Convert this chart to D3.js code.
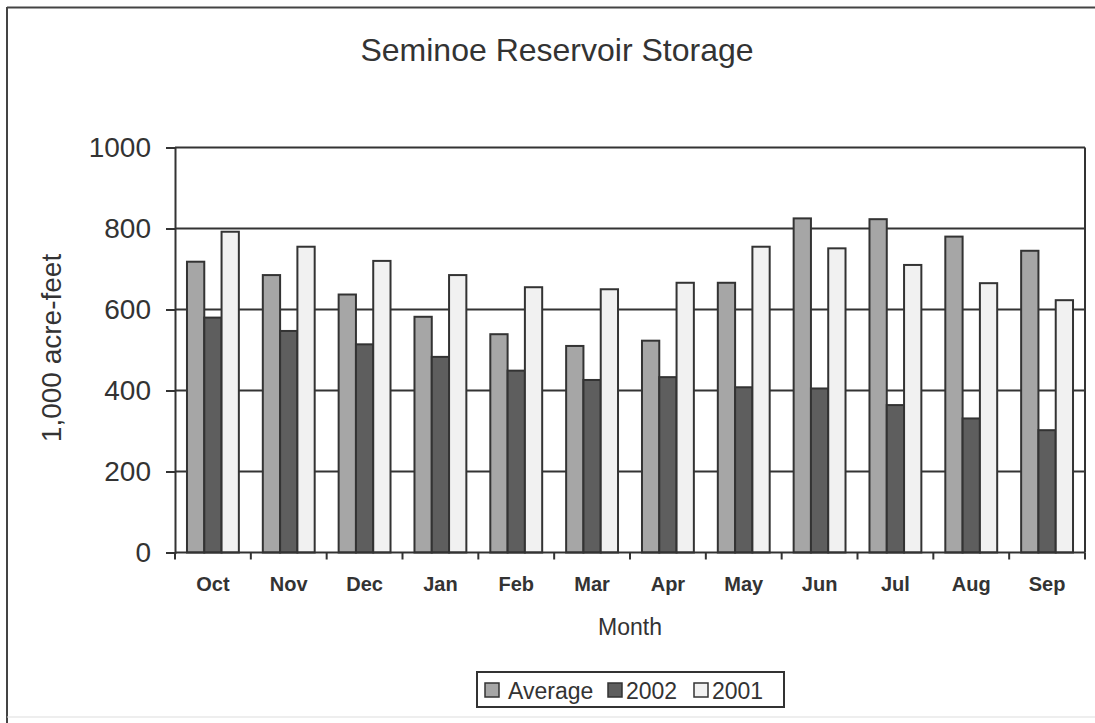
<!DOCTYPE html>
<html>
<head>
<meta charset="utf-8">
<script src="https://cdn.jsdelivr.net/npm/d3@7"></script>
<style>
  html, body { margin: 0; padding: 0; background: #fff; }
  svg { display: block; font-family: "Liberation Sans", Arial, sans-serif; }
</style>
</head>
<body>
<svg id="chart" width="1095" height="723"></svg>
<script>
// Seminoe Reservoir monthly storage, in 1,000 acre-feet
const months = ["Oct", "Nov", "Dec", "Jan", "Feb", "Mar", "Apr", "May", "Jun", "Jul", "Aug", "Sep"];
const seriesNames = ["Average", "2002", "2001"];
const averageValues = [718, 685, 637, 582, 539, 510, 523, 666, 825, 823, 780, 745];
const values2002 = [580, 547, 514, 483, 449, 426, 433, 408, 405, 364, 331, 302];
const values2001 = [792, 755, 720, 685, 655, 650, 666, 755, 751, 710, 665, 623];
const yTicks = [0, 200, 400, 600, 800, 1000];

const seriesValues = [averageValues, values2002, values2001];
const seriesFill = ["#a6a6a6", "#5e5e5e", "#f1f1f1"];
const ink = "#333";

const svg = d3.select("#chart");

// outer chart frame (left/top/bottom edges visible)
svg.append("line").attr("x1", 7).attr("y1", 7.5).attr("x2", 1095).attr("y2", 7.5)
  .attr("stroke", "#444").attr("stroke-width", 2);
svg.append("line").attr("x1", 7).attr("y1", 7).attr("x2", 7).attr("y2", 723)
  .attr("stroke", "#444").attr("stroke-width", 2);
svg.append("line").attr("x1", 7).attr("y1", 717).attr("x2", 1095).attr("y2", 717)
  .attr("stroke", "#ddd").attr("stroke-width", 1);

const plot = { left: 175, right: 1085, top: 147.5, bottom: 552.5 };

const x0 = d3.scaleBand()
  .domain(months)
  .range([plot.left, plot.right])
  .paddingInner(0.316)
  .paddingOuter(0.158);

const x1 = d3.scaleBand()
  .domain(seriesNames)
  .range([0, x0.bandwidth()])
  .padding(0);

const y = d3.scaleLinear()
  .domain([0, 1000])
  .range([plot.bottom, plot.top]);

// gridlines
svg.append("g")
  .selectAll("line")
  .data(yTicks.filter(d => d > 0))
  .join("line")
  .attr("x1", plot.left).attr("x2", plot.right)
  .attr("y1", d => y(d)).attr("y2", d => y(d))
  .attr("stroke", ink).attr("stroke-width", 2);

// plot area right border
svg.append("line")
  .attr("x1", plot.right).attr("x2", plot.right)
  .attr("y1", plot.top).attr("y2", plot.bottom)
  .attr("stroke", ink).attr("stroke-width", 2);

// bars
const rows = months.map((m, i) => ({
  month: m,
  items: seriesNames.map((s, k) => ({ series: s, k, value: seriesValues[k][i] }))
}));

svg.append("g")
  .selectAll("g")
  .data(rows)
  .join("g")
  .attr("transform", d => `translate(${x0(d.month)},0)`)
  .selectAll("rect")
  .data(d => d.items)
  .join("rect")
  .attr("x", d => x1(d.series))
  .attr("y", d => y(d.value))
  .attr("width", x1.bandwidth())
  .attr("height", d => y(0) - y(d.value))
  .attr("fill", d => seriesFill[d.k])
  .attr("stroke", ink)
  .attr("stroke-width", 2);

// y axis
const yAxis = svg.append("g")
  .attr("transform", `translate(${plot.left},0)`)
  .call(d3.axisLeft(y).tickValues(yTicks).tickSize(9).tickPadding(15).tickFormat(d3.format("d")));
yAxis.select(".domain").attr("stroke", ink).attr("stroke-width", 2);
yAxis.selectAll(".tick line").attr("stroke", ink).attr("stroke-width", 2);
yAxis.selectAll(".tick text")
  .attr("fill", ink)
  .attr("font-size", 28)
  .attr("font-family", "Liberation Sans, Arial, sans-serif");

// x axis: ticks between month groups
const boundaries = months.map(m => x0(m) - x0.step() * x0.paddingOuter());
boundaries.push(plot.right);
svg.append("line")
  .attr("x1", plot.left).attr("x2", plot.right)
  .attr("y1", plot.bottom).attr("y2", plot.bottom)
  .attr("stroke", ink).attr("stroke-width", 2);
svg.append("g")
  .selectAll("line")
  .data(boundaries)
  .join("line")
  .attr("x1", d => d).attr("x2", d => d)
  .attr("y1", plot.bottom).attr("y2", plot.bottom + 7)
  .attr("stroke", ink).attr("stroke-width", 2);

svg.append("g")
  .selectAll("text")
  .data(months)
  .join("text")
  .attr("x", d => x0(d) + x0.bandwidth() / 2)
  .attr("y", 591)
  .attr("text-anchor", "middle")
  .attr("font-size", 20)
  .attr("font-weight", "bold")
  .attr("fill", ink)
  .text(d => d);

// titles
svg.append("text")
  .attr("x", 557).attr("y", 61)
  .attr("text-anchor", "middle")
  .attr("font-size", 32)
  .attr("fill", ink)
  .text("Seminoe Reservoir Storage");

svg.append("text")
  .attr("x", (plot.left + plot.right) / 2).attr("y", 635)
  .attr("text-anchor", "middle")
  .attr("font-size", 23)
  .attr("fill", ink)
  .text("Month");

svg.append("text")
  .attr("transform", `translate(61,${(plot.top + plot.bottom) / 2 - 2}) rotate(-90)`)
  .attr("text-anchor", "middle")
  .attr("font-size", 28)
  .attr("fill", ink)
  .text("1,000 acre-feet");

// legend
const legend = svg.append("g");
legend.append("rect")
  .attr("x", 477).attr("y", 672).attr("width", 307).attr("height", 35)
  .attr("fill", "#fff").attr("stroke", ink).attr("stroke-width", 2);
const swatchX = [485, 608, 694];
const labelX = [508, 626, 712];
const items = legend.selectAll("g.item")
  .data(seriesNames)
  .join("g")
  .attr("class", "item");
items.append("rect")
  .attr("x", (d, i) => swatchX[i]).attr("y", 683).attr("width", 14).attr("height", 14)
  .attr("fill", (d, i) => seriesFill[i])
  .attr("stroke", ink).attr("stroke-width", 1.5);
items.append("text")
  .attr("x", (d, i) => labelX[i]).attr("y", 699)
  .attr("font-size", 23)
  .attr("fill", ink)
  .text(d => d);
</script>
</body>
</html>
